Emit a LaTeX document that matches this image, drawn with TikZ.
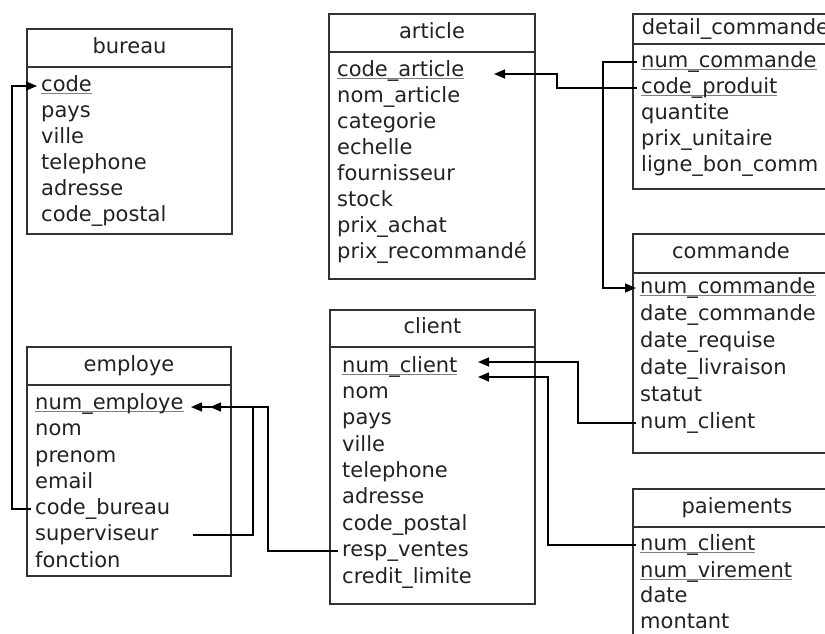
\documentclass[tikz,border=0pt]{standalone}
\usepackage{fontspec}
\setmainfont{DejaVu Sans}
\usetikzlibrary{arrows.meta,calc}
\definecolor{boxc}{HTML}{333333}
\definecolor{txtc}{HTML}{222222}
\newcommand\pkey[1]{\setbox0\hbox{#1}\rlap{\textcolor{black!50}{\rule[-3pt]{\wd0}{1.3pt}}}\box0}
\begin{document}
\begin{tikzpicture}[x=1pt,y=-1pt,
  every node/.style={font=\fontsize{21}{25}\selectfont, text=txtc},
  hdr/.style={draw=boxc, line width=2pt, fill=white, anchor=north west, inner sep=0pt, text height=13pt, text depth=3pt},
  tbody/.style={draw=boxc, line width=2pt, fill=white, anchor=north west, inner sep=0pt},
  row/.style={anchor=base west, inner xsep=4pt, inner ysep=0pt, text height=13pt, text depth=3pt},
  conn/.style={line width=1.5pt, draw=black},
  arr/.style={conn, -{Triangle[length=11pt,width=9pt]}}]
\useasboundingbox (0,0) rectangle (825,633);
\clip (0,0) rectangle (825,633);

% bureau
\node[hdr, minimum width=205pt, minimum height=38pt] (bureau) at (26,28) {bureau};
\node[tbody, minimum width=205pt, minimum height=167pt] (bureau-b) at (26,66) {};
\node[row] (bu-code) at (37,91) {\pkey{code}};
\node[row] (bu-pays) at (37,117) {pays};
\node[row] (bu-ville) at (37,143) {ville};
\node[row] (bu-tel) at (37,169) {telephone};
\node[row] (bu-adr) at (37,195) {adresse};
\node[row] (bu-cp) at (37,221) {code\_postal};

% article
\node[hdr, minimum width=206pt, minimum height=38pt] (article) at (328,13) {article};
\node[tbody, minimum width=206pt, minimum height=227pt] (article-b) at (328,51) {};
\node[row] (ar-code) at (333,76) {\pkey{code\_article}};
\node[row] (ar-nom) at (333,102) {nom\_article};
\node[row] (ar-cat) at (333,128) {categorie};
\node[row] (ar-ech) at (333,154) {echelle};
\node[row] (ar-four) at (333,180) {fournisseur};
\node[row] (ar-stock) at (333,206) {stock};
\node[row] (ar-pa) at (333,232) {prix\_achat};
\node[row] (ar-pr) at (333,258) {prix\_recommandé};

% detail_commande
\node[hdr, minimum width=205pt, minimum height=30pt] (detail) at (632,13) {detail\_commande};
\node[tbody, minimum width=205pt, minimum height=145pt] (detail-b) at (632,43) {};
\node[row] (dc-num) at (637,67) {\pkey{num\_commande}};
\node[row] (dc-cp) at (637,93) {\pkey{code\_produit}};
\node[row] (dc-qte) at (637,119) {quantite};
\node[row] (dc-pu) at (637,145) {prix\_unitaire};
\node[row] (dc-lbc) at (637,171) {ligne\_bon\_comm};

% commande
\node[hdr, minimum width=196pt, minimum height=39pt] (commande) at (632,233) {commande};
\node[tbody, minimum width=196pt, minimum height=180pt] (commande-b) at (632,272) {};
\node[row] (co-num) at (636,293) {\pkey{num\_commande}};
\node[row] (co-dc) at (636,320) {date\_commande};
\node[row] (co-dr) at (636,347) {date\_requise};
\node[row] (co-dl) at (636,374) {date\_livraison};
\node[row] (co-st) at (636,401) {statut};
\node[row] (co-cl) at (636,428) {num\_client};

% paiements
\node[hdr, minimum width=208pt, minimum height=38pt] (paiements) at (632,488) {paiements};
\node[tbody, minimum width=208pt, minimum height=150pt] (paiements-b) at (632,526) {};
\node[row] (pa-cl) at (636,550) {\pkey{num\_client}};
\node[row] (pa-vir) at (636,577) {\pkey{num\_virement}};
\node[row] (pa-date) at (636,602) {date};
\node[row] (pa-mt) at (636,628) {montant};

% client
\node[hdr, minimum width=205pt, minimum height=37pt] (client) at (329,309) {client};
\node[tbody, minimum width=205pt, minimum height=257pt] (client-b) at (329,346) {};
\node[row] (cl-num) at (338,372) {\pkey{num\_client}};
\node[row] (cl-nom) at (338,398) {nom};
\node[row] (cl-pays) at (338,424) {pays};
\node[row] (cl-ville) at (338,451) {ville};
\node[row] (cl-tel) at (338,477) {telephone};
\node[row] (cl-adr) at (338,503) {adresse};
\node[row] (cl-cp) at (338,530) {code\_postal};
\node[row] (cl-rv) at (338,556) {resp\_ventes};
\node[row] (cl-cred) at (338,583) {credit\_limite};

% employe
\node[hdr, minimum width=204pt, minimum height=38pt] (employe) at (26,346) {employe};
\node[tbody, minimum width=204pt, minimum height=191pt] (employe-b) at (26,384) {};
\node[row] (em-num) at (31,409) {\pkey{num\_employe}};
\node[row] (em-nom) at (31,435) {nom};
\node[row] (em-pre) at (31,462) {prenom};
\node[row] (em-mail) at (31,488) {email};
\node[row] (em-cb) at (31,514) {code\_bureau};
\node[row] (em-sup) at (31,540) {superviseur};
\node[row] (em-fct) at (31,567) {fonction};

% connectors
\draw[arr] (em-cb.west) -- ++(-19,0) |- (bu-code.west);
\draw[arr] (dc-cp.west) -- ++(-80,0) |- ($(ar-code.west)+(161,3)$);
\draw[arr] (dc-num.west) -- ++(-34,0) |- (co-num.west);
\draw[arr] (co-cl.west) -- ++(-58,0) |- ($(cl-num.west)+(140,-5)$);
\draw[arr] (pa-cl.west) -- ++(-88,0) |- ($(cl-num.west)+(140,10)$);
\draw[arr] (cl-rv.west) -- ++(-70,0) |- ($(em-num.west)+(160,3)$);
\draw[arr] ($(em-sup.west)+(162,0)$) -- ++(60,0) |- ($(em-num.west)+(179,3)$);
\end{tikzpicture}
\end{document}
